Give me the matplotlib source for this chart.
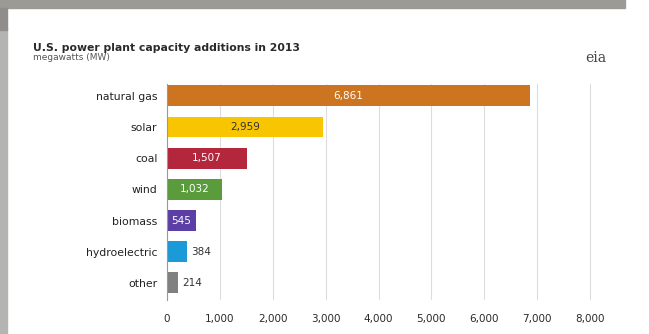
import matplotlib.pyplot as plt
from matplotlib.patches import Rectangle

categories = ['natural gas', 'solar', 'coal', 'wind', 'biomass', 'hydroelectric', 'other']
values = [6861, 2959, 1507, 1032, 545, 384, 214]
colors = ['#cc7420', '#f7c600', '#b3263c', '#5a9c3c', '#5c3fa6', '#1b9ad8', '#808080']
label_colors = ['white', '#333333', 'white', 'white', 'white', None, None]
ticks = [0, 1000, 2000, 3000, 4000, 5000, 6000, 7000, 8000]

W, H = 649, 334
fig = plt.figure(figsize=(W / 100, H / 100), dpi=100)
fig.patch.set_facecolor('white')

# screenshot frame
fig.patches.append(Rectangle((0, 1 - 8 / H), 625 / W, 8 / H, transform=fig.transFigure,
                             color='#9c9a95', zorder=0))
fig.patches.append(Rectangle((0, 0), 7 / W, 1 - 28 / H, transform=fig.transFigure,
                             color='#b4b4b2', zorder=0))
fig.patches.append(Rectangle((0, 1 - 30 / H), 7 / W, 22 / H, transform=fig.transFigure,
                             color='#8f8e8a', zorder=0))

ax = fig.add_axes([167 / W, 1 - 300 / H, (595 - 167) / W, (300 - 84) / H])
y = list(range(len(categories)))
ax.barh(y, values, height=0.67, color=colors, zorder=2)
ax.set_xlim(0, 8000 * 428 / 423)
ax.set_ylim(6.55, -0.38)
ax.set_xticks(ticks)
ax.set_xticklabels([f'{t:,}' for t in ticks], fontsize=7.5, color='#2a2a2a')
ax.set_yticks(y)
ax.set_yticklabels(categories, fontsize=7.8, color='#222222')
ax.tick_params(length=0, pad=7)
ax.tick_params(axis='x', pad=10)
ax.grid(axis='x', color='#dddddd', linewidth=0.8, zorder=0)
for s in ['top', 'right', 'bottom']:
    ax.spines[s].set_visible(False)
ax.spines['left'].set_color('#999999')
ax.spines['left'].set_linewidth(0.8)

for i, (v, lc) in enumerate(zip(values, label_colors)):
    if lc is None:
        ax.text(v + 80, i, f'{v:,}', va='center', ha='left', fontsize=7.5, color='#333333')
    else:
        ax.text(v / 2, i, f'{v:,}', va='center', ha='center', fontsize=7.5, color=lc)

fig.text(33 / W, 1 - 48 / H, 'U.S. power plant capacity additions in 2013',
         fontsize=7.8, fontweight='bold', color='#2a2a2a', va='center')
fig.text(33 / W, 1 - 58 / H, 'megawatts (MW)', fontsize=6.5, color='#555555', va='center')
fig.text(596 / W, 1 - 58 / H, 'eia', fontsize=10, family='DejaVu Serif',
         color='#444444', va='center', ha='center')

fig.savefig('out.png', dpi=100)
